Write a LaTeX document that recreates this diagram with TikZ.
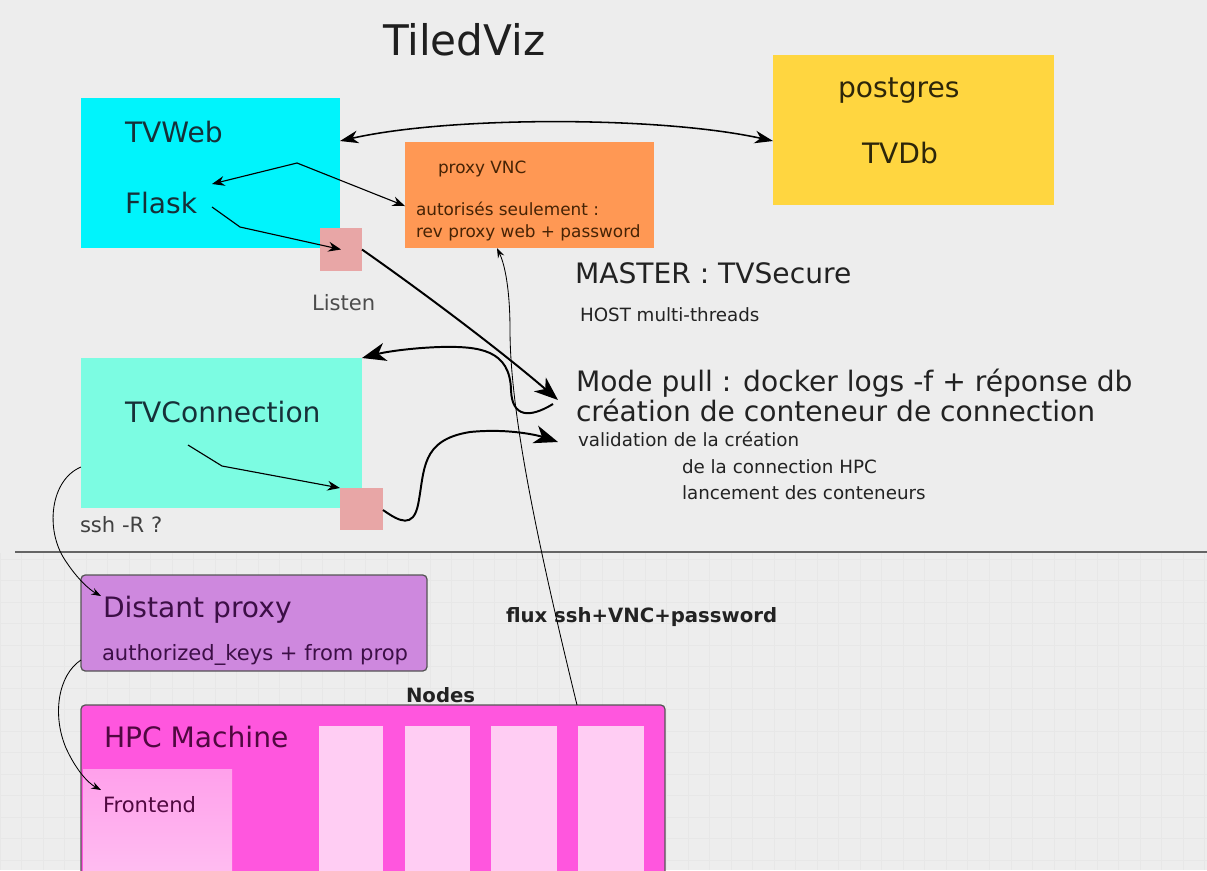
\documentclass[tikz,border=0pt]{standalone}
\usepackage{fontspec}
\setmainfont{DejaVu Sans}
\usetikzlibrary{arrows.meta,fit}

\definecolor{bgc}{RGB}{237,237,237}
\definecolor{gridc}{RGB}{231,231,231}
\definecolor{webc}{RGB}{0,244,252}
\definecolor{connc}{RGB}{124,252,226}
\definecolor{portc}{RGB}{232,166,166}
\definecolor{vncc}{RGB}{255,152,84}
\definecolor{dbc}{RGB}{255,214,64}
\definecolor{proxc}{RGB}{206,136,222}
\definecolor{hpcc}{RGB}{255,86,222}
\definecolor{frontc}{RGB}{255,160,235}
\definecolor{frontlc}{RGB}{255,196,242}
\definecolor{nodec}{RGB}{255,205,243}
\definecolor{inkc}{RGB}{34,34,34}
\definecolor{tealink}{RGB}{22,48,56}
\definecolor{brownink}{RGB}{70,35,5}
\definecolor{dbink}{RGB}{45,38,10}
\definecolor{purpink}{RGB}{60,15,70}
\definecolor{magink}{RGB}{80,8,64}
\definecolor{edgec}{RGB}{85,85,85}
\definecolor{sepc}{RGB}{100,100,100}

\begin{document}
\begin{tikzpicture}[x=0.025cm,y=-0.025cm,
  box/.style={inner sep=0pt, outer sep=0pt},
  framed/.style={box, draw=edgec, line width=0.9pt, rounded corners=3pt},
  lbl/.style={anchor=base west, inner sep=0pt, outer sep=0pt, text=inkc},
  fsTitle/.style={font=\fontsize{30}{36}\selectfont},
  fsBig/.style={font=\fontsize{20}{24}\selectfont},
  fsMid/.style={font=\fontsize{15}{18}\selectfont},
  fsSmall/.style={font=\fontsize{13}{16}\selectfont},
  fsTiny/.style={font=\fontsize{12}{14}\selectfont},
  fsBold/.style={font=\fontsize{14}{17}\selectfont\bfseries},
  heavylink/.style={line width=1.4pt, -{Stealth[length=17pt,width=13pt,inset=5pt]}},
  dblink/.style={line width=1.1pt, {Stealth[length=13pt,width=9pt,inset=4pt]}-{Stealth[length=13pt,width=9pt,inset=4pt]}},
  thinlink/.style={line width=0.8pt, -{Stealth[length=9pt,width=7pt,inset=3pt]}},
  forklink/.style={line width=0.8pt, {Stealth[length=9pt,width=7pt,inset=3pt]}-{Stealth[length=9pt,width=7pt,inset=3pt]}},
  hairlink/.style={line width=0.6pt, -{Stealth[length=7pt,width=5pt,inset=2.5pt]}}
]
\useasboundingbox (0,0) rectangle (1207,870);
\clip (0,0) rectangle (1207,870);
\fill[bgc] (0,0) rectangle (1207,870);
% faint drawing grid of the lower half
\draw[gridc, line width=0.4pt, step=0.5375cm] (0,553) grid (1207,870);

% ---------- title ----------
\node[lbl, fsTitle, text=black!88] (title) at (383,55) {TiledViz};

% ---------- master side ----------
\node[box, fill=webc, fit={(81,98) (340,248)}] (tvweb) {};
\node[lbl, fsBig, text=tealink] (webt) at (125,142) {TVWeb};
\node[lbl, fsBig, text=tealink] (flask) at (125,213) {Flask};
\node[box, fill=portc, fit={(320,228) (362,271)}] (listen) {};
\node[lbl, fsMid, text=black!70] (listent) at (312,310) {Listen};

\node[box, fill=vncc, fit={(405,142) (654,248)}] (vnc) {};
\node[lbl, fsTiny, text=brownink] (vnct) at (438,173) {proxy VNC};
\node[lbl, fsTiny, text=brownink] (vnca) at (416,215) {autorisés seulement :};
\node[lbl, fsTiny, text=brownink] (vncb) at (416,237) {rev proxy web + password};

\node[box, fill=dbc, fit={(773,55) (1054,205)}] (db) {};
\node[lbl, fsBig, text=dbink] (dbt) at (838,97) {postgres};
\node[lbl, fsBig, text=dbink] (dbn) at (862,163) {TVDb};

\node[lbl, fsBig] (master) at (575,283) {MASTER : TVSecure};
\node[lbl, fsSmall] (host) at (580,321) {HOST multi-threads};
\node[lbl, fsBig] (mode) at (576,391) {Mode pull : docker logs -f + réponse db};
\node[lbl, fsBig] (crea) at (576,421) {création de conteneur de connection};
\node[lbl, fsSmall] (valid) at (578,446) {validation de la création};
\node[lbl, fsSmall] (valhpc) at (682,473) {de la connection HPC};
\node[lbl, fsSmall] (launch) at (682,499) {lancement des conteneurs};

\node[box, fill=connc, fit={(81,358) (362,508)}] (tvconn) {};
\node[lbl, fsBig, text=tealink] (connt) at (125,422) {TVConnection};
\node[box, fill=portc, fit={(340,488) (383,530)}] (sq2) {};
\node[lbl, fsMid, text=black!75] (sshr) at (80,532) {ssh -R ?};

% separator between master and HPC side
\draw[sepc, line width=1.4pt] (15,552) -- (1207,552);

% ---------- HPC side ----------
\node[framed, fill=proxc, fit={(81,575) (427,671)}] (prox) {};
\node[lbl, fsBig, text=purpink] (proxt) at (103,617) {Distant proxy};
\node[lbl, fsMid, text=purpink] (proxk) at (102,660) {authorized\_keys + from prop};

\node[lbl, fsBold] (flux) at (506,622) {flux ssh+VNC+password};
\node[lbl, fsBold] (nodest) at (406,702) {Nodes};

\node[framed, fill=hpcc, fit={(81,705) (665,900)}] (hpc) {};
\node[lbl, fsBig, text=magink] (hpct) at (104,747) {HPC Machine};
\node[box, top color=frontc, bottom color=frontlc, fit={(83,769) (232,900)}] (front) {};
\node[lbl, fsMid, text=magink] (frontt) at (103,812) {Frontend};
\node[box, fill=nodec, fit={(319,726) (383,900)}] (n1) {};
\node[box, fill=nodec, fit={(405,726) (470,900)}] (n2) {};
\node[box, fill=nodec, fit={(491,726) (557,900)}] (n3) {};
\node[box, fill=nodec, fit={(578,726) (644,900)}] (n4) {};

% ---------- connector ends ----------
\coordinate (forkTop) at (297,163);
\coordinate (flaskIn) at (212,184);
\coordinate (flaskOut) at (212,207);
\coordinate (modeIn) at (558,400);
\coordinate (loopStart) at (553,404);
\coordinate (creaIn) at (558,442);
\coordinate (connOut) at (188,445);
\coordinate (proxIn) at (101,596);
\coordinate (frontIn) at (101,790);

% ---------- connectors ----------
\draw[dblink] (tvweb.east |- 0,141) .. controls (450,116) and (660,116) .. (db.west |- 0,141);
\draw[forklink] (flaskIn) -- (forkTop) -- (vnc.west |- 0,206);
\draw[thinlink] (flaskOut) -- (240,227) -- (listen.center);
\draw[heavylink] (listen.east) .. controls (420,290) and (500,350) .. (modeIn);
\draw[heavylink] (loopStart) .. controls (530,418) and (512,418) .. (511,390)
   .. controls (510,350) and (480,346) .. (440,347)
   .. controls (410,348) and (385,352) .. (tvconn.north east);
\draw[thinlink] (connOut) -- (222,466) -- (sq2.north west);
\draw[heavylink] (sq2.east |- 0,510) .. controls (400,522) and (413,528) .. (418,505)
   .. controls (425,470) and (420,440) .. (470,432)
   .. controls (510,428) and (540,436) .. (creaIn);
\draw[hairlink] (577,0 |- hpc.north) .. controls (543,565) and (510,420) .. (510,330)
   .. controls (510,290) and (505,265) .. (vnc.south -| 497,0);
\draw[hairlink] (tvconn.west |- 0,467) .. controls (50,480) and (45,530) .. (65,560)
   .. controls (78,580) and (90,590) .. (proxIn);
\draw[hairlink] (prox.west |- 0,660) .. controls (58,675) and (52,715) .. (66,748)
   .. controls (76,770) and (88,783) .. (frontIn);
\end{tikzpicture}
\end{document}
